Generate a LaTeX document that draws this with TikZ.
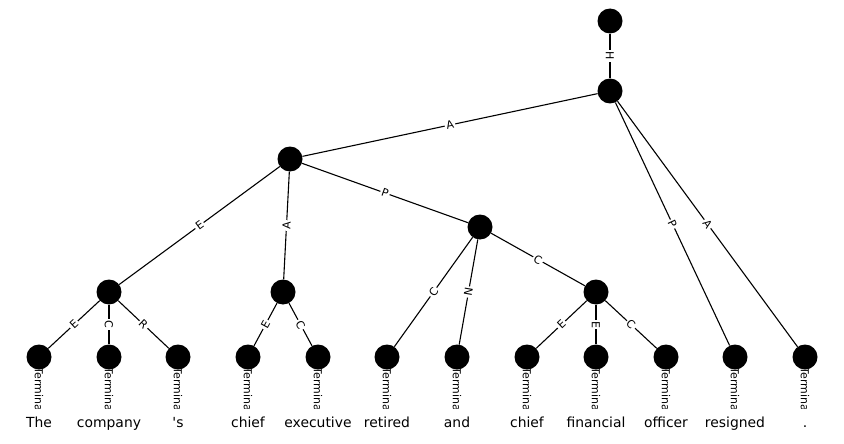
\documentclass[tikz,border=0pt]{standalone}
\usepackage{fontspec}
\setmainfont{DejaVu Sans}
\usetikzlibrary{backgrounds}
\begin{document}
\begin{tikzpicture}
[x=1pt,y=-1pt,
dot/.style={circle,fill=black,minimum size=25pt,inner sep=0pt},
lbl/.style={sloped,fill=white,inner sep=1.5pt,font=\fontsize{11}{13}\selectfont},
word/.style={fill=white,anchor=base,text height=11pt,text depth=3pt,inner sep=7pt,minimum width=20pt,font=\fontsize{13.9}{16}\selectfont}]
\useasboundingbox (0,0) rectangle (844,444);
\node[dot] (r) at (610,21) {};
\node[dot] (h) at (610,91) {};
\node[dot] (a) at (290,159) {};
\node[dot] (p) at (480,227) {};
\node[dot] (e) at (109,292) {};
\node[dot] (c) at (283,292) {};
\node[dot] (cc) at (596,292) {};
\foreach \i/\x/\w in {1/39/The,2/109/company,3/178/\textquotesingle s,4/248/chief,
5/318/executive,6/387/retired,7/457/and,8/527/chief,9/596/financial,
10/666/officer,11/735/resigned,12/805/.}{
\node[dot] (t\i) at (\x,357) {};
\node[word] (w\i) at (\x,427) {\w};
}
\begin{pgfonlayer}{background}
\begin{scope}[line width=1.1pt]
\path (r) edge node[lbl] {H} (h)
(h) edge node[lbl] {A} (a) edge node[lbl] {P} (t11) edge node[lbl] {A} (t12)
(a) edge node[lbl] {E} (e) edge node[lbl] {A} (c) edge node[lbl] {P} (p)
(p) edge node[lbl] {C} (t6) edge node[lbl] {N} (t7) edge node[lbl] {C} (cc)
(e) edge node[lbl] {E} (t1) edge node[lbl] {C} (t2) edge node[lbl] {R} (t3)
(c) edge node[lbl] {E} (t4) edge node[lbl] {C} (t5)
(cc) edge node[lbl] {E} (t8) edge node[lbl] {E} (t9) edge node[lbl] {C} (t10);
\end{scope}
\foreach \i in {1,...,12}
\path (t\i) edge[draw=none] node[lbl,fill=none,pos=0.54] {Terminal} (w\i);
\end{pgfonlayer}
\end{tikzpicture}
\end{document}
